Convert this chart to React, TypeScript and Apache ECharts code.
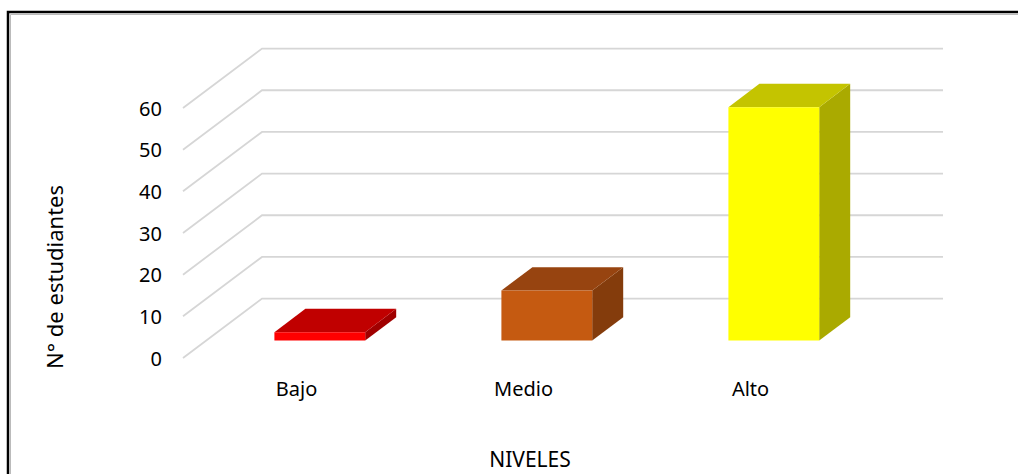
import React, { useEffect, useRef } from "react";
import * as echarts from "echarts";

const categories = ["Bajo", "Medio", "Alto"];
const values = [2, 12, 56];
const yTicks = [0, 10, 20, 30, 40, 50, 60];
const yAxisTitle = "N° de estudiantes";
const xAxisTitle = "NIVELES";

const frontColors = ["#FF0000", "#C55A11", "#FFFF00"];
const topColors = ["#C00000", "#974410", "#C4C400"];
const sideColors = ["#A00000", "#843C0C", "#AAAA00"];

// perspective geometry (pixels)
const FLOOR_DX = 79;
const FLOOR_DY = -59.4;
const BAR_FRONT = 0.295; // fraction of floor depth where bar front sits
const BAR_DX = 31;
const BAR_DY = -23.3;
const BAR_W = 0.4;

export default function App() {
  const ref = useRef<HTMLDivElement>(null);
  useEffect(() => {
    const chart = echarts.init(ref.current!, null, { renderer: "svg" });
    const font = "'Noto Sans', sans-serif";
    chart.setOption({
      animation: false,
      backgroundColor: "#ffffff",
      grid: { left: 183, width: 681, top: 108, bottom: 116 },
      xAxis: {
        type: "category",
        data: categories,
        axisLine: { show: false },
        axisTick: { show: false },
        axisLabel: { color: "#000", fontSize: 20, fontFamily: font, margin: 20 },
        splitLine: { show: false },
      },
      yAxis: {
        type: "value",
        min: 0,
        max: 60,
        interval: 10,
        axisLine: { show: false },
        axisTick: { show: false },
        axisLabel: { color: "#000", fontSize: 20, fontFamily: font, margin: 21 },
        splitLine: { show: false },
      },
      graphic: [
        {
          type: "rect",
          shape: { x: 8, y: 12, width: 1030, height: 500 },
          style: { fill: "none", stroke: "#000", lineWidth: 2.5 },
          silent: true,
        },
        {
          type: "rect",
          shape: { x: 10.5, y: 14.5, width: 1030, height: 500 },
          style: { fill: "none", stroke: "#bbbbbb", lineWidth: 1 },
          silent: true,
        },
        {
          type: "text",
          x: 54,
          y: 277,
          rotation: Math.PI / 2,
          style: {
            text: yAxisTitle,
            fontSize: 22,
            fontFamily: font,
            fill: "#000",
            align: "center",
            verticalAlign: "middle",
          },
        },
        {
          type: "text",
          x: 530,
          y: 459,
          style: {
            text: xAxisTitle,
            fontSize: 21,
            fontFamily: font,
            fill: "#000",
            align: "center",
            verticalAlign: "middle",
          },
        },
      ],
      series: [
        {
          type: "custom",
          silent: true,
          z: 1,
          data: yTicks.map((v) => [0, v]),
          renderItem: (params: any, api: any) => {
            const cs = params.coordSys;
            const y = api.coord([0, api.value(1)])[1];
            const x0 = cs.x;
            return {
              type: "polyline",
              shape: {
                points: [
                  [x0, y],
                  [x0 + FLOOR_DX, y + FLOOR_DY],
                  [x0 + cs.width + FLOOR_DX, y + FLOOR_DY],
                ],
              },
              style: { stroke: "#d6d6d6", lineWidth: 1.8, fill: "none" },
            };
          },
        },
        {
          type: "custom",
          z: 2,
          data: values.map((v, i) => [i, v]),
          renderItem: (params: any, api: any) => {
            const i = api.value(0);
            const v = api.value(1);
            const p0 = api.coord([i, 0]);
            const p1 = api.coord([i, v]);
            const band = api.size([1, 0])[0];
            const w = band * BAR_W;
            const ox = FLOOR_DX * BAR_FRONT;
            const oy = FLOOR_DY * BAR_FRONT;
            const L = p0[0] + ox - w / 2;
            const R = p0[0] + ox + w / 2;
            const B = p0[1] + oy;
            const T = p1[1] + oy;
            return {
              type: "group",
              children: [
                {
                  type: "polygon",
                  shape: { points: [[R, T], [R + BAR_DX, T + BAR_DY], [R + BAR_DX, B + BAR_DY], [R, B]] },
                  style: { fill: sideColors[i] },
                },
                {
                  type: "polygon",
                  shape: { points: [[L, T], [R, T], [R + BAR_DX, T + BAR_DY], [L + BAR_DX, T + BAR_DY]] },
                  style: { fill: topColors[i] },
                },
                {
                  type: "rect",
                  shape: { x: L, y: T, width: w, height: B - T },
                  style: { fill: frontColors[i] },
                },
              ],
            };
          },
        },
      ],
    });
    return () => chart.dispose();
  }, []);
  return (
    <div
      ref={ref}
      style={{ position: "fixed", left: 0, top: 0, width: 1018, height: 474 }}
    />
  );
}
